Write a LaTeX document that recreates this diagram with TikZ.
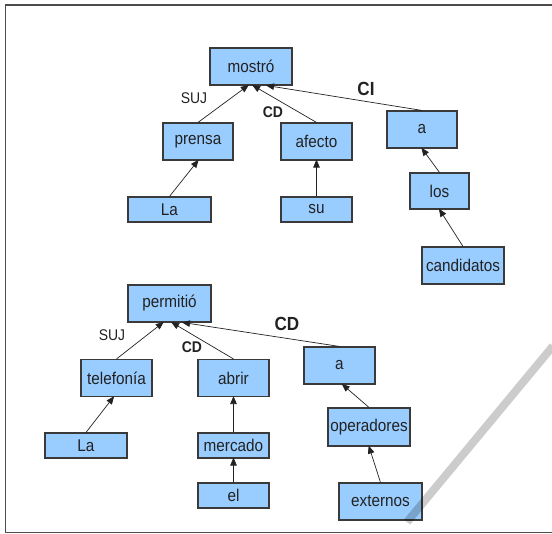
\documentclass[tikz,border=0pt]{standalone}
\usepackage{fontspec}
\setmainfont{Liberation Sans}[FakeStretch=0.9]
\usetikzlibrary{arrows.meta}
\definecolor{boxfill}{HTML}{99CCFF}
\definecolor{boxline}{HTML}{3A3A3A}
\definecolor{ink}{HTML}{222222}
\tikzset{
  wbox/.style 2 args={draw=boxline, line width=1.1pt, fill=boxfill, inner sep=0pt,
    minimum width=#1, minimum height=#2, text=ink, font=\fontsize{17}{19}\selectfont},
  dep/.style={draw=ink, line width=0.7pt, -{Triangle[length=8pt,width=6.5pt]}, shorten >=-1pt},
  rel/.style={text=ink, font=\fontsize{15.5}{17}\selectfont, inner sep=0pt},
  relb/.style={text=ink, font=\fontsize{15.5}{17}\selectfont\bfseries, inner sep=0pt},
  relbig/.style={text=ink, font=\fontsize{19}{21}\selectfont\bfseries, inner sep=0pt},
}
\begin{document}
\begin{tikzpicture}[x=1pt, y=-1pt]
  \useasboundingbox (0,0) rectangle (552,534);
  % outer frame
  \draw[line width=1.4pt, draw=black!70] (552,5) -- (5.5,5) -- (5.5,532.5) -- (552,532.5);

  % first sentence
  \node[wbox={82}{37}] (mostro) at (251,66.5) {mostró};
  \node[wbox={70}{37}] (prensa) at (198,141.5) {prensa};
  \node[wbox={71}{37}] (afecto) at (316.5,141.5) {afecto};
  \node[wbox={70}{37}] (a1) at (422,129.5) {a};
  \node[wbox={83}{25}] (la1) at (169.5,209.5) {La};
  \node[wbox={71}{25}] (su) at (316.5,209.5) {su};
  \node[wbox={59}{36}] (los) at (439.5,191) {los};
  \node[wbox={82}{37}] (cand) at (463,265.5) {candidatos};

  \draw[dep] (prensa.north) -- ([xshift=-3]mostro.south);
  \draw[dep] (afecto.north) -- ([xshift=2]mostro.south);
  \draw[dep] (a1.north) -- ([xshift=16]mostro.south);
  \draw[dep] (la1.north) -- (prensa.south);
  \draw[dep] (su.north) -- (afecto.south);
  \draw[dep] (los.north) -- (a1.south);
  \draw[dep] (cand.north) -- (los.south);

  \node[rel] (suj1) at (194,98.5) {SUJ};
  \node[relb] (cd1) at (273,112) {CD};
  \node[relbig] (ci1) at (366,89) {CI};

  % second sentence
  \node[wbox={83}{37}] (permitio) at (169.5,303.5) {permitió};
  \node[wbox={71}{37}] (telef) at (116.5,378) {telefonía};
  \node[wbox={71}{37}] (abrir) at (233.5,378) {abrir};
  \node[wbox={71}{37}] (a2) at (339.5,365.5) {a};
  \node[wbox={82}{25}] (la2) at (86,445.5) {La};
  \node[wbox={71}{25}] (mercado) at (233.5,445.5) {mercado};
  \node[wbox={71}{25}] (el) at (233.5,495.5) {el};
  \node[wbox={82}{38}] (oper) at (369,427) {operadores};
  \node[wbox={83}{37}] (ext) at (380.5,501.5) {externos};

  \draw[dep] (telef.north) -- ([xshift=-6.5]permitio.south);
  \draw[dep] (abrir.north) -- ([xshift=2.5]permitio.south);
  \draw[dep] (a2.north) -- ([xshift=13.5]permitio.south);
  \draw[dep] (la2.north) -- ([xshift=-3]telef.south);
  \draw[dep] (mercado.north) -- (abrir.south);
  \draw[dep] (el.north) -- (mercado.south);
  \draw[dep] (oper.north) -- ([xshift=3]a2.south);
  \draw[dep] (ext.north) -- (oper.south);

  \node[rel] (suj2) at (112,335) {SUJ};
  \node[relb] (cd2) at (192,347) {CD};
  \node[relbig] (cd3) at (287,324) {CD};

  % faint diagonal stroke across the lower right corner
  \draw[line width=8pt, draw=black, draw opacity=0.2] (553,346) -- (407,522);
\end{tikzpicture}
\end{document}
